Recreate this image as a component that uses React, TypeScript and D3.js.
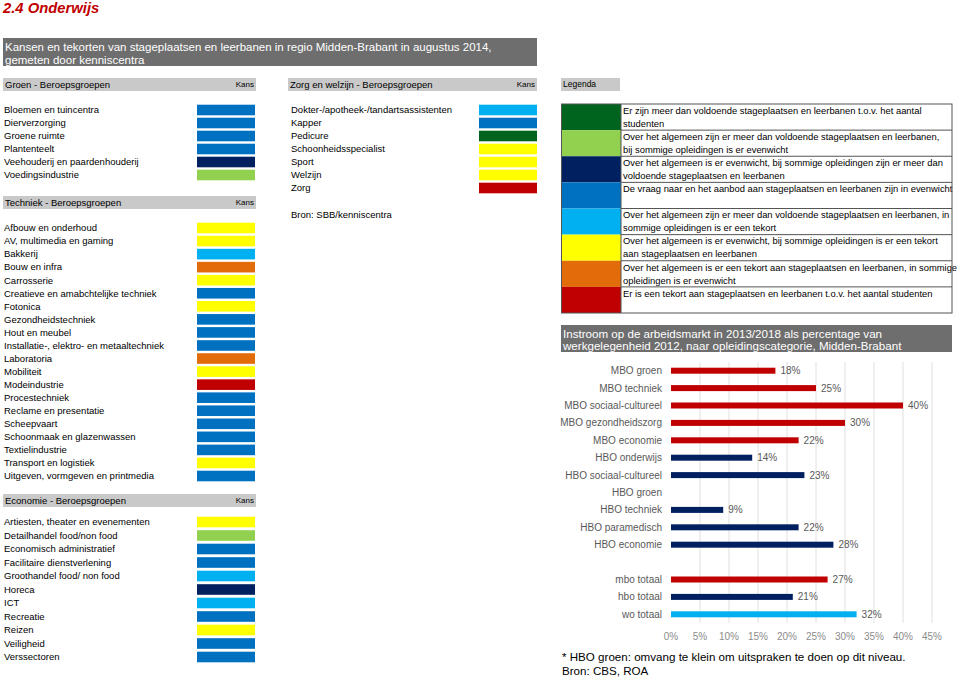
import React from "react";
import * as d3 from "d3";

// ---------- DATA ----------
const legendColors = ["#00641e", "#92d050", "#002060", "#0070c0", "#00b0f0", "#ffff00", "#e36c0a", "#c00000"];
const legendTexts: string[][] = [
  ["Er zijn meer dan voldoende stageplaatsen en leerbanen t.o.v. het aantal", "studenten"],
  ["Over het algemeen zijn er meer dan voldoende stageplaatsen en leerbanen,", "bij sommige opleidingen is er evenwicht"],
  ["Over het algemeen is er evenwicht, bij sommige opleidingen zijn er meer dan", "voldoende stageplaatsen en leerbanen"],
  ["De vraag naar en het aanbod aan stageplaatsen en leerbanen zijn in evenwicht"],
  ["Over het algemeen zijn er meer dan voldoende stageplaatsen en leerbanen, in", "sommige opleidingen is er een tekort"],
  ["Over het algemeen is er evenwicht, bij sommige opleidingen is er een tekort", "aan stageplaatsen en leerbanen"],
  ["Over het algemeen is er een tekort aan stageplaatsen en leerbanen, in sommige", "opleidingen is er evenwicht"],
  ["Er is een tekort aan stageplaatsen en leerbanen t.o.v. het aantal studenten"],
];

const groenCats = ["Bloemen en tuincentra", "Dierverzorging", "Groene ruimte", "Plantenteelt", "Veehouderij en paardenhouderij", "Voedingsindustrie"];
const groenKans = [4, 4, 4, 4, 3, 2];

const techniekCats = [
  "Afbouw en onderhoud", "AV, multimedia en gaming", "Bakkerij", "Bouw en infra", "Carrosserie",
  "Creatieve en amabchtelijke techniek", "Fotonica", "Gezondheidstechniek", "Hout en meubel",
  "Installatie-, elektro- en metaaltechniek", "Laboratoria", "Mobiliteit", "Modeindustrie", "Procestechniek",
  "Reclame en presentatie", "Scheepvaart", "Schoonmaak en glazenwassen", "Textielindustrie",
  "Transport en logistiek", "Uitgeven, vormgeven en printmedia",
];
const techniekKans = [6, 6, 5, 7, 6, 4, 6, 4, 4, 4, 7, 6, 8, 4, 4, 4, 4, 4, 6, 4];

const economieCats = [
  "Artiesten, theater en evenementen", "Detailhandel food/non food", "Economisch administratief",
  "Facilitaire dienstverlening", "Groothandel food/ non food", "Horeca", "ICT", "Recreatie", "Reizen",
  "Veiligheid", "Verssectoren",
];
const economieKans = [6, 2, 4, 4, 5, 3, 5, 4, 6, 4, 4];

const zorgCats = ["Dokter-/apotheek-/tandartsassistenten", "Kapper", "Pedicure", "Schoonheidsspecialist", "Sport", "Welzijn", "Zorg"];
const zorgKans = [5, 4, 1, 6, 6, 6, 8];

const barCats = [
  "MBO groen", "MBO techniek", "MBO sociaal-cultureel", "MBO gezondheidszorg", "MBO economie",
  "HBO onderwijs", "HBO sociaal-cultureel", "HBO groen", "HBO techniek", "HBO paramedisch", "HBO economie",
  "", "mbo totaal", "hbo totaal", "wo totaal",
];
const barValues: (number | null)[] = [18, 25, 40, 30, 22, 14, 23, null, 9, 22, 28, null, 27, 21, 32];
const barLevel = ["mbo", "mbo", "mbo", "mbo", "mbo", "hbo", "hbo", "hbo", "hbo", "hbo", "hbo", "", "mbo", "hbo", "wo"];
const xTicks = [0, 5, 10, 15, 20, 25, 30, 35, 40, 45];

// ---------- STYLE ----------
const FONT = "'Liberation Sans', Arial, sans-serif";
const levelColor: Record<string, string> = { mbo: "#c00000", hbo: "#002060", wo: "#00b0f0" };
const LABEL_SIZE = 9.5;

function KansList({ cats, kans, labelX, boxX, boxW, yStart, yEnd }: any) {
  const y = d3.scalePoint<number>().domain(d3.range(cats.length)).range([yStart, yEnd]);
  return (
    <g>
      {cats.map((c: string, i: number) => (
        <g key={c}>
          <text x={labelX} y={y(i)!} dy="0.35em" fontSize={LABEL_SIZE} fill="#000">{c}</text>
          <rect x={boxX} y={y(i)! - 5.3} width={boxW} height={10.6} fill={legendColors[kans[i] - 1]} />
        </g>
      ))}
    </g>
  );
}

function Header({ x, y, w, label, kans }: any) {
  return (
    <g>
      <rect x={x} y={y - 6.5} width={w} height={13} fill="#c9c9c9" />
      <text x={x + 2} y={y} dy="0.35em" fontSize={LABEL_SIZE} fill="#000">{label}</text>
      {kans && <text x={x + w - 2} y={y} dy="0.35em" fontSize={8} textAnchor="end" fill="#000">Kans</text>}
    </g>
  );
}

export default function App() {
  const W = 960, H = 678;

  // Legend
  const legTop = 104, legBottom = 313, legX = 561, swW = 60, legRight = 952;
  const legY = d3.scaleLinear().domain([0, legendColors.length]).range([legTop, legBottom]);

  // Bar chart
  const x = d3.scaleLinear().domain([0, 45]).range([671, 932]);
  const y = d3.scaleBand<number>().domain(d3.range(barCats.length)).range([362, 623]);
  const barH = 6;

  return (
    <div style={{ position: "absolute", left: 0, top: 0 }}>
      <svg width={W} height={H} style={{ display: "block", fontFamily: FONT }}>
        <rect width={W} height={H} fill="#fff" />
        <text x={3} y={12.5} fontSize={14.8} fontWeight="bold" fontStyle="italic" fill="#c00000">2.4 Onderwijs</text>

        {/* top banner */}
        <rect x={3} y={38} width={534} height={28} fill="#6e6e6e" />
        <text x={5} y={47} dy="0.35em" fontSize={11.5} fill="#fff">Kansen en tekorten van stageplaatsen en leerbanen in regio Midden-Brabant in augustus 2014,</text>
        <text x={5} y={60} dy="0.35em" fontSize={11.5} fill="#fff">gemeten door kenniscentra</text>

        {/* left column */}
        <Header x={3} y={84.5} w={253} label="Groen - Beroepsgroepen" kans />
        <KansList cats={groenCats} kans={groenKans} labelX={4} boxX={197} boxW={58} yStart={110} yEnd={175} />
        <Header x={3} y={202.5} w={253} label="Techniek - Beroepsgroepen" kans />
        <KansList cats={techniekCats} kans={techniekKans} labelX={4} boxX={197} boxW={58} yStart={228} yEnd={476} />
        <Header x={3} y={500.5} w={253} label="Economie - Beroepsgroepen" kans />
        <KansList cats={economieCats} kans={economieKans} labelX={4} boxX={197} boxW={58} yStart={522} yEnd={657} />

        {/* middle column */}
        <Header x={288} y={84.5} w={249} label="Zorg en welzijn - Beroepsgroepen" kans />
        <KansList cats={zorgCats} kans={zorgKans} labelX={291} boxX={479} boxW={58} yStart={110} yEnd={188} />
        <text x={291} y={215} dy="0.35em" fontSize={LABEL_SIZE} fill="#000">Bron: SBB/kenniscentra</text>

        {/* legend */}
        <rect x={561} y={78} width={59} height={13} fill="#c9c9c9" />
        <text x={563} y={84.5} dy="0.35em" fontSize={8.5} fill="#000">Legenda</text>
        {legendColors.map((c, i) => (
          <g key={i}>
            <rect x={legX} y={legY(i)} width={swW} height={legY(i + 1) - legY(i)} fill={c} />
            {i > 0 && <line x1={legX + swW} x2={legRight} y1={legY(i)} y2={legY(i)} stroke="#555" strokeWidth={1} />}
            {legendTexts[i].map((t, j) => (
              <text key={j} x={legX + swW + 2} y={legY(i) + 6.5 + j * 13} dy="0.35em" fontSize={9.4} fill="#000">{t}</text>
            ))}
          </g>
        ))}
        <rect x={legX + 0.5} y={legTop} width={legRight - legX - 0.5} height={legBottom - legTop} fill="none" stroke="#555" strokeWidth={1} />
        <line x1={legX + swW} x2={legX + swW} y1={legTop} y2={legBottom} stroke="#555" strokeWidth={1} />

        {/* bar chart banner */}
        <rect x={561} y={325} width={391} height={27} fill="#6e6e6e" />
        <text x={563} y={333.5} dy="0.35em" fontSize={11.6} fill="#fff">Instroom op de arbeidsmarkt in 2013/2018 als percentage van</text>
        <text x={563} y={346} dy="0.35em" fontSize={11.6} fill="#fff">werkgelegenheid 2012, naar opleidingscategorie, Midden-Brabant</text>

        {/* gridlines */}
        {xTicks.filter((t) => t > 0).map((t) => (
          <line key={t} x1={x(t)} x2={x(t)} y1={362} y2={623} stroke="#e0e0e0" strokeWidth={1} />
        ))}
        {/* bars */}
        {barCats.map((c, i) => {
          const cy = y(i)! + y.bandwidth() / 2;
          const v = barValues[i];
          return (
            <g key={i}>
              {c && <text x={662} y={cy} dy="0.35em" fontSize={10} textAnchor="end" fill="#595959">{c}</text>}
              {v != null && (
                <>
                  <rect x={x(0)} y={cy - barH / 2} width={x(v) - x(0)} height={barH} fill={levelColor[barLevel[i]]} />
                  <text x={x(v) + 5} y={cy} dy="0.35em" fontSize={10} fill="#595959">{v}%</text>
                </>
              )}
            </g>
          );
        })}
        {xTicks.map((t) => (
          <text key={t} x={x(t)} y={636} dy="0.35em" fontSize={10} textAnchor="middle" fill="#8c8c8c">{t}%</text>
        ))}

        <text x={562} y={657} dy="0.35em" fontSize={11.6} fill="#000">* HBO groen: omvang te klein om uitspraken te doen op dit niveau.</text>
        <text x={562} y={671} dy="0.35em" fontSize={11.6} fill="#000">Bron: CBS, ROA</text>
      </svg>
    </div>
  );
}
